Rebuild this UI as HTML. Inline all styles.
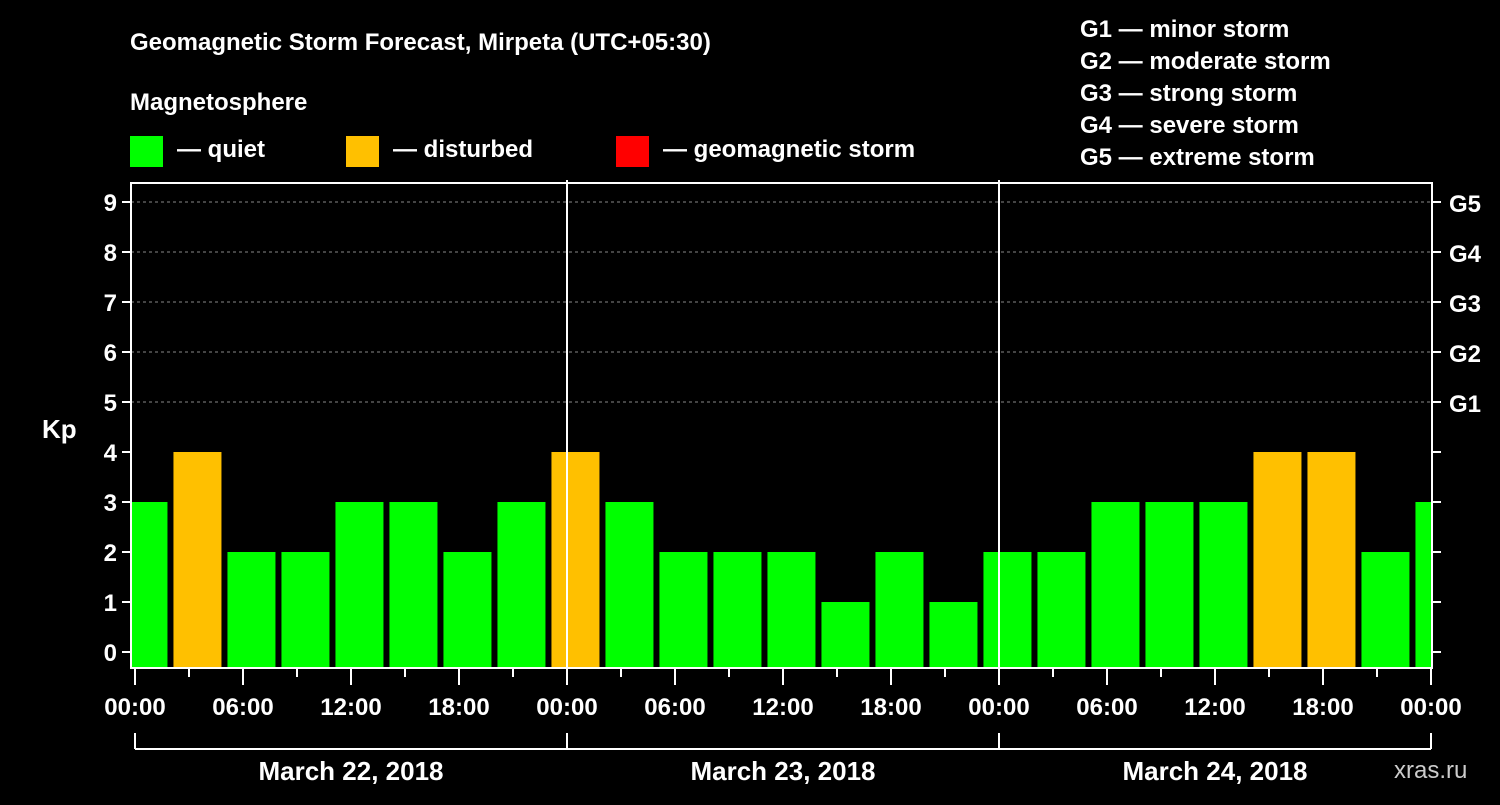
<!DOCTYPE html>
<html><head><meta charset="utf-8"><style>
body{margin:0;background:#000;width:1500px;height:800px;overflow:hidden}
svg text{font-family:"Liberation Sans",Arial,sans-serif;font-weight:bold;fill:#fff}
</style></head><body>
<svg id="c" width="1500" height="800">
<text x="130" y="50" font-size="24">Geomagnetic Storm Forecast, Mirpeta (UTC+05:30)</text>
<text x="130" y="110" font-size="24">Magnetosphere</text>
<rect x="130" y="136" width="33" height="31" fill="#00ff00"/>
<text x="177" y="157" font-size="24">— quiet</text>
<rect x="346" y="136" width="33" height="31" fill="#ffc000"/>
<text x="393" y="157" font-size="24">— disturbed</text>
<rect x="616" y="136" width="33" height="31" fill="#ff0000"/>
<text x="663" y="157" font-size="24">— geomagnetic storm</text>
<g font-size="24">
<text x="1080" y="37">G1 — minor storm</text>
<text x="1080" y="69">G2 — moderate storm</text>
<text x="1080" y="101">G3 — strong storm</text>
<text x="1080" y="133">G4 — severe storm</text>
<text x="1080" y="165">G5 — extreme storm</text>
</g>
<text x="42" y="438" font-size="26">Kp</text>
<text x="1394" y="778" font-size="24" fill="#ccc" style="font-weight:normal;fill:#ccc">xras.ru</text>
<g id="plot"></g>
</svg>
<script>
const values=[3,4,2,2,3,3,2,3,4,3,2,2,2,1,2,1,2,2,3,3,3,4,4,2,3];
const yTicks=[0,1,2,3,4,5,6,7,8,9];
const gLabels=["G1","G2","G3","G4","G5"];
const xLabels=["00:00","06:00","12:00","18:00","00:00","06:00","12:00","18:00","00:00","06:00","12:00","18:00","00:00"];
const dates=["March 22, 2018","March 23, 2018","March 24, 2018"];
const X0=135,PX_H=18,L=131,R=1432,T=183,B=668;
const x=h=>X0+h*PX_H;
const y=v=>652-v*50;
const ns="http://www.w3.org/2000/svg";
const g=document.getElementById('plot');
function mk(t,a){const e=document.createElementNS(ns,t);for(const k in a)e.setAttribute(k,a[k]);g.appendChild(e);return e;}
const cp=mk('clipPath',{id:'cp'});g.removeChild(cp);
const cr=document.createElementNS(ns,'rect');cr.setAttribute('x',L+1);cr.setAttribute('y',T);cr.setAttribute('width',R-L-2);cr.setAttribute('height',B-T);cp.appendChild(cr);
const defs=document.createElementNS(ns,'defs');defs.appendChild(cp);g.appendChild(defs);
[5,6,7,8,9].forEach(v=>{
 const l=mk('line',{x1:L,x2:R,y1:y(v),y2:y(v),stroke:'#888','stroke-dasharray':'3,3'});
 
 
});
const bg=document.createElementNS(ns,'g');bg.setAttribute('clip-path','url(#cp)');g.appendChild(bg);
values.forEach((v,i)=>{
 const cx=x(3*i+0.47);
 const r=document.createElementNS(ns,'rect');
 r.setAttribute('x',cx-24);r.setAttribute('width',48);
 r.setAttribute('y',y(v));r.setAttribute('height',B-y(v));
 r.setAttribute('fill',v>=5?'#ff0000':v>=4?'#ffc000':'#00ff00');
 
 
 bg.appendChild(r);
});
[1,2].forEach(d=>{
 const l=mk('line',{x1:x(24*d),x2:x(24*d),y1:T-3,y2:B,stroke:'#fff','stroke-width':2});
 
 
});
const f=mk('rect',{x:L,y:T,width:R-L,height:B-T,fill:'none',stroke:'#fff','stroke-width':2});


yTicks.forEach(v=>{
 mk('line',{x1:L-9,x2:L,y1:y(v),y2:y(v),stroke:'#fff','stroke-width':2});
 mk('line',{x1:R,x2:R+9,y1:y(v),y2:y(v),stroke:'#fff','stroke-width':2});
 const t=mk('text',{x:L-14,y:y(v)+9,'font-size':24,'text-anchor':'end'});t.textContent=v;
 
 
});
gLabels.forEach((s,i)=>{
 const t=mk('text',{x:R+17,y:y(i+5)+10,'font-size':24});t.textContent=s;
 
 
});
for(let h=0;h<=72;h+=3){
 const maj=h%6===0;
 mk('line',{x1:x(h),x2:x(h),y1:B,y2:B+(maj?17:9),stroke:'#fff','stroke-width':2});
}
xLabels.forEach((s,i)=>{
 const t=mk('text',{x:x(6*i),y:715,'font-size':24,'text-anchor':'middle'});t.textContent=s;
 
 
});
mk('line',{x1:x(0),x2:x(72),y1:749,y2:749,stroke:'#fff','stroke-width':2});
[0,24,48,72].forEach(h=>mk('line',{x1:x(h),x2:x(h),y1:733,y2:749,stroke:'#fff','stroke-width':2}));
dates.forEach((s,i)=>{
 const t=mk('text',{x:x(24*i+12),y:780,'font-size':26,'text-anchor':'middle'});t.textContent=s;
 
 
});
</script>
</body></html>
